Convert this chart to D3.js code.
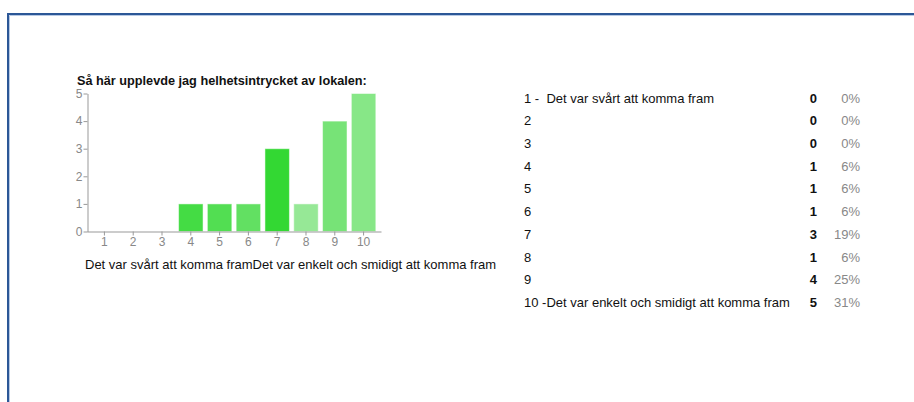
<!doctype html>
<html>
<head>
<meta charset="utf-8">
<style type="text/css">
body { margin: 0; background: #fff; }
text { font-family: "Liberation Sans", Arial, sans-serif; }
.title { font-size: 12.7px; font-weight: bold; fill: #111; }
.tick text { fill: #888; font-size: 12px; }
.row { font-size: 13px; fill: #111; white-space: pre; }
.cnt { font-size: 13px; font-weight: bold; fill: #111; text-anchor: end; }
.pct { font-size: 13px; fill: #888; text-anchor: end; }
</style>
</head>
<body>
<svg width="914" height="402"></svg>
<script src="https://d3js.org/d3.v7.min.js"></script>
<script>
var categories = ["1", "2", "3", "4", "5", "6", "7", "8", "9", "10"];
var counts = [0, 0, 0, 1, 1, 1, 3, 1, 4, 5];
var percents = ["0%", "0%", "0%", "6%", "6%", "6%", "19%", "6%", "25%", "31%"];
var rowLabels = ["1 -  Det var svårt att komma fram", "2", "3", "4", "5", "6", "7", "8", "9",
                 "10 -Det var enkelt och smidigt att komma fram"];
var barColors = ["#44dc44", "#44dc44", "#44dc44", "#44dc44", "#52de52", "#62e062",
                 "#33d833", "#96e896", "#77e377", "#87e787"];
var yTicks = [0, 1, 2, 3, 4, 5];
var title = "Så här upplevde jag helhetsintrycket av lokalen:";
var footer = "Det var svårt att komma framDet var enkelt och smidigt att komma fram";

var svg = d3.select("svg");

// frame
svg.append("path")
    .attr("d", "M8,402V14H914")
    .attr("fill", "none")
    .attr("stroke", "#2c5797")
    .attr("stroke-width", 2);
svg.append("path")
    .attr("d", "M9.5,402V15.5H914")
    .attr("fill", "none")
    .attr("stroke", "#b7c9e4")
    .attr("stroke-width", 1);

var x = d3.scaleBand()
    .domain(categories)
    .range([87, 381])
    .paddingInner(0.15)
    .paddingOuter(0.18);

var y = d3.scaleLinear()
    .domain([0, 5])
    .range([231.5, 93.5]);

svg.append("text")
    .attr("class", "title")
    .attr("x", 77)
    .attr("y", 85)
    .text(title);

svg.selectAll("rect.bar")
    .data(counts)
    .enter().append("rect")
    .attr("class", "bar")
    .attr("x", function(d, i) { return x(categories[i]); })
    .attr("y", function(d) { return y(d); })
    .attr("width", x.bandwidth())
    .attr("height", function(d) { return y(0) - y(d); })
    .attr("fill", function(d, i) { return barColors[i]; })
    .attr("stroke", "#ffffff")
    .attr("stroke-opacity", 0.5)
    .attr("stroke-width", 1);

var xAxis = svg.append("g")
    .attr("transform", "translate(0," + y(0) + ")")
    .call(d3.axisBottom(x).tickSizeInner(4).tickSizeOuter(0).tickPadding(2));
xAxis.select(".domain").attr("stroke", "#999");
xAxis.selectAll(".tick line").attr("stroke", "#999");

var yAxis = svg.append("g")
    .attr("transform", "translate(87.5,0)")
    .call(d3.axisLeft(y).tickValues(yTicks).tickFormat(d3.format("d"))
        .tickSizeInner(4).tickSizeOuter(0).tickPadding(1));
yAxis.select(".domain").attr("stroke", "#999");
yAxis.selectAll(".tick line").attr("stroke", "#999");

svg.append("text")
    .attr("x", 85)
    .attr("y", 269)
    .attr("font-size", "13px")
    .attr("fill", "#111")
    .text(footer);

// summary table
var rowY = d3.scaleLinear().domain([0, 9]).range([102.5, 307]);
var rows = svg.selectAll("g.row")
    .data(rowLabels)
    .enter().append("g")
    .attr("transform", function(d, i) { return "translate(0," + rowY(i) + ")"; });
rows.append("text")
    .attr("class", "row")
    .attr("x", 524)
    .text(function(d) { return d; });
rows.append("text")
    .attr("class", "cnt")
    .attr("x", 817)
    .text(function(d, i) { return counts[i]; });
rows.append("text")
    .attr("class", "pct")
    .attr("x", 860)
    .text(function(d, i) { return percents[i]; });
</script>
</body>
</html>
